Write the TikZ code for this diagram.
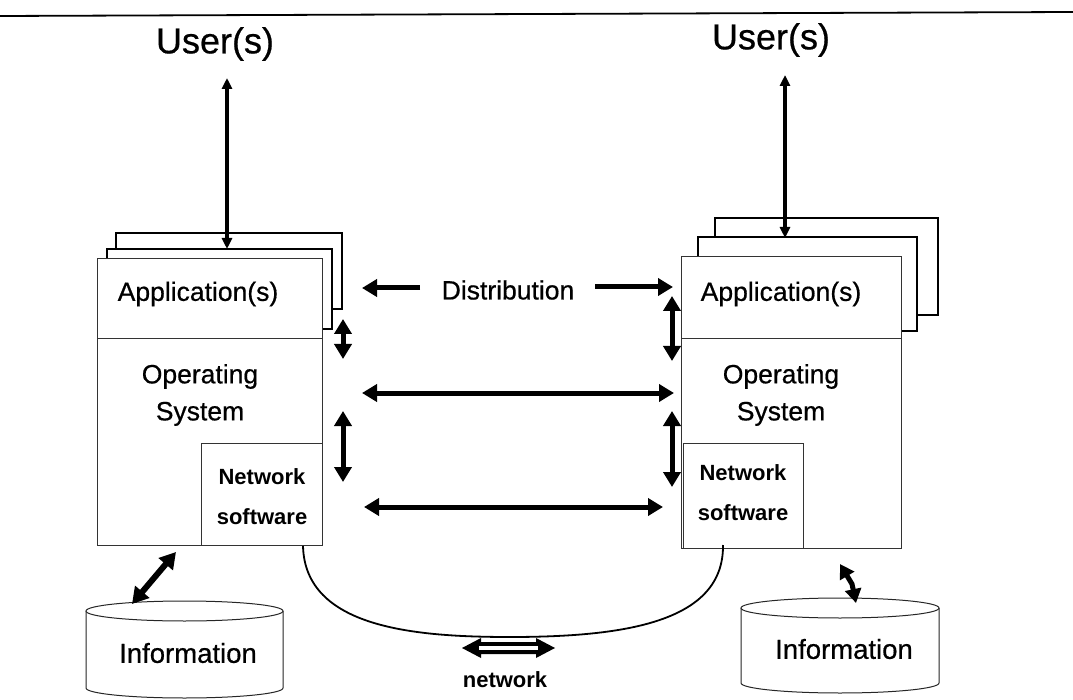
\documentclass[tikz,border=0pt]{standalone}
\usepackage{fontspec}
\setmainfont{Liberation Sans}
\newfontfamily\scanfont[FakeBold=0.6]{Liberation Sans}
\usetikzlibrary{arrows.meta,fit}
\begin{document}
\begin{tikzpicture}[x=1pt,y=-1pt,
  frontbox/.style={draw=black!80, line width=0.9pt, fill=white, inner sep=0pt},
  backbox/.style={draw=black, line width=1.7pt, fill=white, inner sep=0pt},
  usertxt/.style={font=\scanfont\fontsize{36}{40}\selectfont, inner sep=0pt},
  bigtxt/.style={font=\scanfont\fontsize{26.5}{37}\selectfont, align=center, inner sep=0pt},
  smalltxt/.style={font=\bfseries\fontsize{22}{40}\selectfont, align=center, inner sep=0pt},
  userarrow/.style={line width=3.2pt, {Triangle[length=11pt,width=10pt]}-{Triangle[length=11pt,width=10pt]}},
  fatarrow/.style={line width=5pt, {Triangle[length=15pt,width=17pt]}-{Triangle[length=15pt,width=17pt]}},
  onearrow/.style={line width=5pt, -{Triangle[length=15pt,width=17pt]}},
  cylline/.style={draw=black!85, line width=1pt, fill=white},
  netline/.style={line width=1.8pt}
]
\useasboundingbox (0,0) rectangle (1073,700);

% top rule
\coordinate (ruleL) at (0,16);
\coordinate (ruleR) at (1073,12);
\draw[line width=1.8pt] (ruleL) -- (ruleR);

% ---------- left stack ----------
\node[backbox, fit={(116,233) (342,309)}] (Lb2) {};
\node[backbox, fit={(107,249) (332,329)}] (Lb1) {};
\node[frontbox, fit={(97,258) (322,545)}] (Lfront) {};
\draw[draw=black!80, line width=0.9pt] (97,338) -- (322,338);
\node[frontbox, fit={(201,443) (322,545)}] (Lnsbox) {};

% ---------- right stack ----------
\node[backbox, fit={(715,218) (938,315)}] (Rb2) {};
\node[backbox, fit={(698,237) (917,331)}] (Rb1) {};
\node[frontbox, fit={(681,256) (901,548)}] (Rfront) {};
\draw[draw=black!80, line width=0.9pt] (681,338) -- (901,338);
\node[frontbox, fit={(683,443) (803,548)}] (Rnsbox) {};

% ---------- texts ----------
\node[usertxt] (Lusr) at (215,44) {User(s)};
\node[usertxt] (Rusr) at (771,40) {User(s)};
\node[bigtxt] (Lapp) at (198,294) {Application(s)};
\node[bigtxt] (Rapp) at (781,294) {Application(s)};
\node[bigtxt] (Los) at (200,395) {Operating\\System};
\node[bigtxt] (Ros) at (781,395) {Operating\\System};
\node[smalltxt] (Lns) at (262,497) {Network\\software};
\node[smalltxt] (Rns) at (743,493) {Network\\software};
\node[bigtxt] (Dist) at (508,290) {Distribution};

% ---------- user arrows ----------
\coordinate (LuTop) at (227,78);
\coordinate (LuBot) at (227,249);
\coordinate (RuTop) at (785,75);
\coordinate (RuBot) at (785,238);
\draw[userarrow] (LuTop) -- (LuBot);
\draw[userarrow] (RuTop) -- (RuBot);

% ---------- distribution arrows ----------
\coordinate (DlTail) at (420,288);
\coordinate (DlTip) at (362,288);
\coordinate (DrTail) at (595,287);
\coordinate (DrTip) at (673,287);
\draw[onearrow] (DlTail) -- (DlTip);
\draw[onearrow] (DrTail) -- (DrTip);

\coordinate (Mh1) at (362,393);
\coordinate (Mh2) at (674,393);
\draw[fatarrow] (Mh1) -- (Mh2);
\coordinate (Bh1) at (364,507);
\coordinate (Bh2) at (663,507);
\draw[fatarrow] (Bh1) -- (Bh2);

% vertical arrows
\coordinate (Lv1a) at (343,319);
\coordinate (Lv1b) at (343,359);
\coordinate (Lv2a) at (343,411);
\coordinate (Lv2b) at (343,482);
\coordinate (Rv1a) at (672,296);
\coordinate (Rv1b) at (672,361);
\coordinate (Rv2a) at (672,411);
\coordinate (Rv2b) at (672,487);
\draw[fatarrow] (Lv1a) -- (Lv1b);
\draw[fatarrow] (Lv2a) -- (Lv2b);
\draw[fatarrow] (Rv1a) -- (Rv1b);
\draw[fatarrow] (Rv2a) -- (Rv2b);

% ---------- network curve ----------
\coordinate (NetL) at (303,546);
\coordinate (NetMid) at (510,637);
\coordinate (NetR) at (723,545);
\draw[netline] (NetL) .. controls (305,628) and (415,637) .. (NetMid)
                      .. controls (625,637) and (724,622) .. (NetR);

% hollow network double arrow
\fill[black] (462,648) -- (481,638) -- (481,642) -- (536,642) -- (536,638)
  -- (555,648) -- (536,658) -- (536,654) -- (481,654) -- (481,658) -- cycle;
\fill[white] (479,646.3) rectangle (538,649.7);
\node[smalltxt] (net) at (505,680) {network};

% ---------- cylinders ----------
\draw[cylline] (86,611) -- (86,688) arc[start angle=180, end angle=360, x radius=98.5pt, y radius=10pt] -- (283,611);
\draw[cylline] (184.5,611) ellipse[x radius=98.5pt, y radius=10pt];
\node[bigtxt] (Linfo) at (188,653) {\fontsize{27.5}{37}\selectfont Information};

\draw[cylline] (741,608) -- (741,683) arc[start angle=180, end angle=360, x radius=99pt, y radius=10pt] -- (939,608);
\draw[cylline] (840,608) ellipse[x radius=99pt, y radius=10pt];
\node[bigtxt] (Rinfo) at (844,649) {\fontsize{27.5}{37}\selectfont Information};

% cylinder arrows
\coordinate (LcA) at (132,604);
\coordinate (LcB) at (176,552);
\draw[line width=6pt, {Triangle[length=16pt,width=18pt]}-{Triangle[length=16pt,width=18pt]}] (LcA) -- (LcB);
\coordinate (RcA) at (840,564);
\coordinate (RcK) at (852,584);
\coordinate (RcB) at (856,603);
\draw[line width=5pt, line join=round, {Triangle[length=14pt,width=16pt]}-{Triangle[length=14pt,width=16pt]}] (RcA) -- (RcK) -- (RcB);
\end{tikzpicture}
\end{document}
